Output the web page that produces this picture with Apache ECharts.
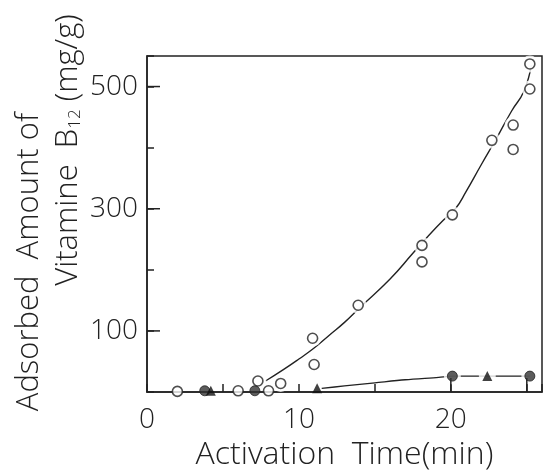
<!DOCTYPE html>
<html>
<head>
<meta charset="utf-8">
<script src="https://cdn.jsdelivr.net/npm/echarts@6/dist/echarts.min.js"></script>
<style>
  html, body { margin: 0; padding: 0; background: #fff; }
  #chart { width: 548px; height: 472px; }
</style>
</head>
<body>
<div id="chart"></div>
<script>
// measured points [time (min), amount (mg/g)]
var openPts = [[2, 1], [6, 2], [7.3, 18], [8, 2], [8.8, 14], [10.9, 88], [11, 45], [13.9, 142],
  [18.1, 240], [18.1, 213], [20.1, 290], [22.7, 412], [24.1, 437], [24.1, 397], [25.2, 496], [25.2, 537]];
var filledPts = [[3.8, 2], [7.1, 2], [20.1, 26], [25.2, 26]];
var trianglePts = [[4.2, 2], [11.2, 6], [22.4, 26]];

// hand drawn curves
var upperCurve = [[7.8, 18], [9, 37], [10, 54], [11, 72], [12, 93], [13, 114], [14, 138], [16, 185],
  [17.5, 227], [18.5, 255], [19.5, 281], [20.3, 300], [21, 328], [22, 372], [23, 415], [24, 460], [24.8, 492], [25.3, 535]];
var lowerCurve = [[11.5, 6], [13, 10], [15, 15], [17, 20], [19.2, 24], [20.1, 26], [22.4, 26], [25.2, 26]];

var xLabels = [0, 10, 20];
var yLabels = [100, 300, 500];
var longTicksY = [100, 300, 500];
var longTicksX = [20, 25];

var fontMain = '"Open Sans", "Noto Sans", sans-serif';

var myChart = echarts.init(document.getElementById('chart'));

// longer tick marks, placed through the axis scales
function tickItem(dir, len) {
  return function (params, api) {
    var p = api.coord([api.value(0), api.value(1)]);
    var shape = dir === 'y'
      ? { x1: p[0], y1: p[1], x2: p[0] + len, y2: p[1] }
      : { x1: p[0], y1: p[1], x2: p[0], y2: p[1] - len };
    return { type: 'line', shape: shape, style: { stroke: '#222', lineWidth: 1.5 } };
  };
}

myChart.setOption({
  animation: false,
  grid: {
    left: 147, right: 6, top: 56, bottom: 80,
    outerBoundsMode: 'none',
    show: true, borderColor: '#222', borderWidth: 1.5
  },
  xAxis: {
    type: 'value',
    min: 0, max: 26,
    interval: 5,
    axisLine: { lineStyle: { color: '#222', width: 1.5 } },
    axisTick: { inside: true, length: 8, lineStyle: { color: '#222', width: 1.5 } },
    splitLine: { show: false },
    axisLabel: {
      margin: 14,
      fontFamily: fontMain, fontWeight: 300, fontSize: 28, color: '#222',
      formatter: function (v) { return xLabels.indexOf(v) >= 0 ? String(v) : ''; }
    },
    name: 'Activation  Time(min)',
    nameLocation: 'middle',
    nameGap: 42,
    nameTextStyle: { fontFamily: fontMain, fontWeight: 300, fontSize: 32, color: '#222' }
  },
  yAxis: {
    type: 'value',
    min: 0, max: 550,
    interval: 100,
    axisLine: { lineStyle: { color: '#222', width: 1.5 } },
    axisTick: { inside: true, length: 7, lineStyle: { color: '#222', width: 1.5 } },
    splitLine: { show: false },
    axisLabel: {
      margin: 9,
      fontFamily: fontMain, fontWeight: 300, fontSize: 28, color: '#222',
      formatter: function (v) { return yLabels.indexOf(v) >= 0 ? String(v) : ''; }
    }
  },
  graphic: [
    {
      type: 'text', x: 29, y: 262, rotation: Math.PI / 2,
      style: {
        text: 'Adsorbed  Amount of',
        fontFamily: fontMain, fontWeight: 300, fontSize: 31, fill: '#222',
        align: 'center', verticalAlign: 'middle'
      }
    },
    {
      type: 'text', x: 68, y: 150, rotation: Math.PI / 2,
      style: {
        text: '{a|Vitamine  B}{s|12}{a| (mg/g)}',
        align: 'center', verticalAlign: 'middle',
        rich: {
          a: { fontFamily: fontMain, fontWeight: 300, fontSize: 31, fill: '#222' },
          s: { fontFamily: fontMain, fontWeight: 300, fontSize: 17, fill: '#222', padding: [15, 0, 0, 0] }
        }
      }
    }
  ],
  series: [
    {
      type: 'line', data: upperCurve, smooth: true, showSymbol: false, z: 1,
      lineStyle: { color: '#222', width: 1.4 }
    },
    {
      type: 'line', data: lowerCurve, smooth: 0.3, showSymbol: false, z: 1,
      lineStyle: { color: '#222', width: 1.4 }
    },
    {
      // white halo so the curves break around the markers
      type: 'scatter', z: 2, symbolSize: 17, silent: true,
      data: openPts.concat(filledPts, trianglePts).filter(function (p) { return p[1] > 10; }),
      itemStyle: { color: '#fff' }
    },
    {
      type: 'custom', z: 3, data: longTicksY.map(function (v) { return [0, v]; }),
      renderItem: tickItem('y', 13)
    },
    {
      type: 'custom', z: 3, data: longTicksX.map(function (v) { return [v, 0]; }),
      renderItem: tickItem('x', 14)
    },
    {
      type: 'scatter', z: 4, data: openPts, symbol: 'circle', symbolSize: 10,
      itemStyle: { color: '#fff', borderColor: '#222', borderWidth: 1.6 }
    },
    {
      type: 'scatter', z: 4, data: filledPts, symbol: 'circle', symbolSize: 10,
      itemStyle: { color: '#333', borderColor: '#222', borderWidth: 1 }
    },
    {
      type: 'scatter', z: 4, data: trianglePts, symbol: 'triangle', symbolSize: 10,
      itemStyle: { color: '#111' }
    }
  ]
});

window.onresize = function () {
  myChart.resize();
};
</script>
</body>
</html>
